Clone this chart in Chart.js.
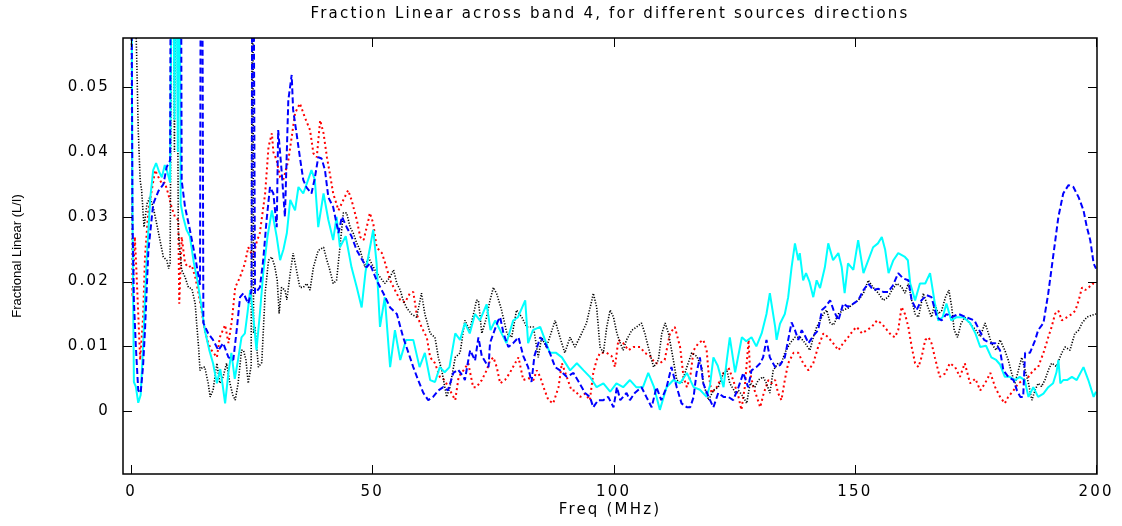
<!DOCTYPE html>
<html>
<head>
<meta charset="utf-8">
<title>Fraction Linear across band 4</title>
<script src="https://cdn.jsdelivr.net/npm/chart.js@4.4.1/dist/chart.umd.min.js"></script>
<style>
  html, body { margin: 0; padding: 0; background: #fff; }
  #wrap { width: 1122px; height: 526px; }
</style>
</head>
<body>
<div id="wrap"><canvas id="fracChart" width="1122" height="526"></canvas></div>
<script>
// [freq (MHz), fractional linear L/I]
const cyanPoints = [
  [0,0.09],[0.3,0.03],[0.6,0.0045],[1.0,0.0038],[1.5,0.0013],[2.0,0.0025],[2.5,0.010],[3.2,0.0228],
  [4.0,0.033],[4.6,0.0372],[5.2,0.0383],[5.8,0.037],[6.4,0.0361],[7.0,0.038],[7.5,0.037],[8.1,0.0353],
  [8.6,0.09],[9.0,0.045],[9.3,0.09],[9.7,0.04],[10.0,0.09],[10.3,0.032],[10.8,0.030],[11.5,0.028],
  [12.2,0.027],[13.0,0.023],[13.8,0.020],[14.3,0.0176],[15.3,0.0125],[16.2,0.0095],[17.0,0.0074],
  [17.8,0.0043],[18.5,0.0065],[19.0,0.004],[19.5,0.0012],[20.2,0.006],[20.8,0.009],[21.5,0.005],
  [22.2,0.008],[22.9,0.0114],[23.6,0.012],[24.2,0.0155],[24.7,0.0187],[25.3,0.015],[26.0,0.0094],
  [26.7,0.015],[27.4,0.0213],[28.3,0.027],[29.2,0.031],[30.2,0.0269],[30.9,0.0233],[31.6,0.025],
  [32.3,0.0275],[33.0,0.0326],[34.0,0.031],[34.7,0.0346],[35.7,0.0336],[36.7,0.0357],[37.4,0.0372],
  [38.1,0.0357],[38.8,0.0284],[39.9,0.0336],[40.9,0.0295],[41.9,0.0264],[42.6,0.030],[43.3,0.0253],
  [44.5,0.027],[45.7,0.0222],[46.8,0.0191],[47.8,0.016],[48.6,0.0215],[50.2,0.028],[50.9,0.0228],
  [51.6,0.013],[52.6,0.0176],[53.7,0.0068],[54.7,0.0125],[55.8,0.0079],[57.0,0.011],[58.5,0.011],
  [59.8,0.0068],[60.9,0.009],[62.0,0.0048],[63.0,0.0045],[64.0,0.0068],[65.0,0.006],[66.0,0.0068],
  [67.2,0.012],[68.2,0.011],[69.2,0.0136],[70.2,0.012],[71.3,0.015],[72.3,0.014],[73.7,0.0165],
  [74.5,0.0125],[75.5,0.014],[76.8,0.012],[77.8,0.0105],[79.2,0.014],[80.2,0.0145],[81.7,0.0171],
  [82.3,0.0105],[83.3,0.0125],[84.8,0.013],[85.8,0.011],[86.8,0.009],[88.1,0.009],[89.3,0.0083],
  [91.0,0.0063],[92.4,0.0074],[93.8,0.0063],[95.1,0.0053],[96.5,0.0037],[97.9,0.0043],[99.3,0.003],
  [100.6,0.0043],[102.0,0.0037],[103.4,0.0048],[104.7,0.0037],[106.1,0.0037],[107.2,0.0059],
  [108.4,0.0037],[109.6,0.0002],[111.0,0.0037],[112.4,0.0048],[113.8,0.0043],[115.2,0.0059],
  [116.6,0.0037],[117.9,0.0033],[119.3,0.0022],[120.0,0.004],[120.7,0.0083],[121.6,0.007],
  [122.8,0.0037],[123.5,0.008],[124.1,0.0114],[125.2,0.006],[126.6,0.0114],[127.5,0.0108],
  [128.6,0.0114],[129.6,0.010],[130.7,0.012],[131.7,0.015],[132.4,0.0182],[133.5,0.013],[133.8,0.011],
  [134.5,0.0135],[135.5,0.015],[136.2,0.0176],[136.9,0.0222],[137.6,0.0259],[138.3,0.0233],
  [138.6,0.0244],[139.3,0.0202],[139.9,0.0213],[140.6,0.020],[141.4,0.0176],[142.1,0.0202],
  [142.8,0.019],[143.8,0.0222],[144.5,0.0259],[145.5,0.0233],[146.6,0.0244],[147.3,0.0222],
  [147.9,0.0182],[148.6,0.0228],[149.7,0.0218],[150.7,0.0264],[151.8,0.0213],[152.8,0.0233],
  [153.8,0.0253],[154.8,0.0259],[155.6,0.0269],[156.3,0.0249],[157.0,0.0213],[158.0,0.0233],
  [159.0,0.0244],[160.4,0.0238],[161.0,0.0233],[161.5,0.0197],[162.5,0.0171],[163.5,0.0197],
  [164.6,0.0197],[165.6,0.0213],[166.6,0.0166],[167.3,0.014],[168.2,0.0145],[169.0,0.0166],
  [170.0,0.014],[171.1,0.0145],[172.5,0.0145],[173.9,0.0136],[175.0,0.012],[176.0,0.0099],
  [177.2,0.0101],[178.3,0.0083],[179.3,0.0079],[180.1,0.0072],[181.1,0.0053],[182.1,0.0053],
  [183.2,0.0048],[184.2,0.0053],[185.2,0.0048],[186.0,0.0022],[187.0,0.0037],[188.0,0.0022],
  [189.1,0.0027],[190.1,0.0037],[191.1,0.0043],[191.8,0.006],[192.2,0.0079],[192.6,0.0043],
  [193.2,0.0048],[194.0,0.0048],[195.0,0.0053],[196.0,0.0048],[197.4,0.0068],[198.4,0.0048],
  [199.5,0.0022],[200,0.003]
];

const bluePoints = [
  [0,0.09],[0.3,0.03],[0.6,0.017],[1.0,0.010],[1.5,0.0032],[2.0,0.0028],[2.5,0.007],[2.9,0.0125],
  [3.6,0.0248],[4.6,0.032],[5.7,0.034],[6.7,0.035],[7.4,0.0377],[8.1,0.0387],[8.3,0.09],[9.2,0.06],
  [9.8,0.09],[10.3,0.09],[10.5,0.0356],[11.2,0.0315],[12.2,0.028],[13.3,0.0238],[14.3,0.0195],
  [14.5,0.09],[14.7,0.09],[15.0,0.0136],[16.0,0.012],[17.0,0.011],[18.1,0.0094],[19.1,0.0105],
  [20.2,0.0083],[21.2,0.0079],[21.9,0.0125],[22.6,0.0176],[23.3,0.0182],[24.3,0.0166],[25.0,0.0187],
  [25.15,0.09],[25.3,0.09],[25.7,0.0182],[26.7,0.0191],[27.4,0.0233],[28.1,0.0295],[28.8,0.0346],
  [29.5,0.0336],[30.2,0.0284],[30.5,0.0434],[31.2,0.0372],[31.9,0.030],[32.6,0.048],[33.3,0.0519],
  [33.6,0.0465],[34.3,0.0429],[35.0,0.0392],[35.7,0.0357],[36.4,0.0345],[37.4,0.0336],[38.1,0.036],
  [38.8,0.0392],[39.5,0.039],[40.2,0.0372],[40.9,0.033],[41.9,0.0315],[43.0,0.0275],[43.7,0.030],
  [44.7,0.0284],[45.7,0.027],[46.8,0.0248],[47.8,0.0235],[48.8,0.0222],[49.5,0.0228],[50.9,0.0202],
  [52.3,0.0182],[53.7,0.016],[55.1,0.015],[56.4,0.0114],[57.5,0.009],[58.5,0.0068],[59.5,0.0048],
  [60.6,0.0028],[61.6,0.0017],[62.6,0.0022],[63.7,0.0032],[64.7,0.0037],[65.7,0.0032],[66.8,0.0059],
  [67.8,0.0064],[68.9,0.0053],[69.2,0.0048],[70.0,0.0083],[70.3,0.0094],[71.3,0.0078],[72.0,0.0114],
  [72.7,0.0085],[74.1,0.0068],[74.4,0.0105],[75.1,0.012],[76.1,0.014],[76.5,0.0145],[77.2,0.012],
  [78.2,0.0099],[79.2,0.0105],[80.3,0.0114],[81.3,0.0085],[82.3,0.0068],[83.0,0.0045],[83.6,0.0085],
  [84.8,0.0114],[85.8,0.0105],[86.8,0.009],[87.9,0.0068],[88.9,0.0063],[90.3,0.0053],[91.7,0.0059],
  [92.8,0.0045],[94.1,0.0028],[95.1,0.0022],[95.8,0.0006],[96.8,0.0017],[97.9,0.0017],[98.9,0.0022],
  [100.0,0.0006],[100.7,0.0037],[101.4,0.0017],[102.7,0.0028],[103.4,0.0017],[104.4,0.0028],
  [105.8,0.0037],[106.8,0.0022],[107.9,0.0006],[108.9,0.0037],[109.9,0.0017],[111.0,0.0037],
  [112.0,0.0068],[113.1,0.0037],[114.1,0.0012],[115.2,0.0006],[115.9,0.0006],[116.6,0.0022],
  [117.2,0.0059],[117.9,0.0083],[118.6,0.0043],[119.7,0.0022],[120.7,0.0006],[121.7,0.0028],
  [122.8,0.0022],[123.8,0.0022],[124.8,0.0017],[125.9,0.0037],[126.9,0.0059],[127.9,0.0037],
  [128.6,0.0063],[129.6,0.0068],[130.4,0.0074],[131.0,0.0083],[131.7,0.011],[132.4,0.0083],
  [133.5,0.0068],[134.5,0.0071],[135.5,0.0083],[136.2,0.011],[136.9,0.0137],[137.6,0.0125],
  [138.3,0.011],[139.0,0.0125],[139.7,0.0116],[140.4,0.0105],[141.4,0.0116],[142.4,0.0125],
  [143.2,0.0156],[143.9,0.0161],[144.9,0.0171],[145.6,0.0156],[146.6,0.014],[147.6,0.0166],
  [148.6,0.0161],[149.7,0.0166],[150.7,0.0171],[151.8,0.0187],[152.8,0.0197],[153.8,0.0187],
  [154.9,0.0189],[155.9,0.0184],[156.9,0.0184],[157.9,0.0194],[159.0,0.0213],[160.0,0.0205],
  [161.1,0.0202],[161.8,0.0171],[162.8,0.0156],[163.8,0.0171],[164.9,0.0179],[165.9,0.0176],
  [167.0,0.0145],[168.0,0.014],[169.0,0.015],[170.1,0.0145],[171.5,0.015],[173.1,0.0145],
  [174.8,0.014],[175.8,0.0125],[176.8,0.011],[178.1,0.0105],[179.1,0.0105],[180.1,0.0094],
  [180.8,0.0063],[181.8,0.0053],[182.9,0.0048],[183.6,0.0032],[184.3,0.0022],[184.9,0.0022],
  [185.3,0.009],[186.3,0.009],[187.4,0.011],[188.0,0.0125],[189.1,0.0136],[190.1,0.0182],
  [191.1,0.0238],[192.2,0.030],[193.2,0.0336],[194.3,0.0349],[195.3,0.0346],[196.4,0.033],
  [197.4,0.031],[198.1,0.0284],[198.8,0.0264],[199.5,0.0228],[200,0.022]
];

const redPoints = [
  [0,0.09],[0.3,0.0176],[0.8,0.0269],[1.1,0.022],[1.5,0.015],[1.9,0.0079],[2.5,0.0145],[2.9,0.0238],
  [3.6,0.031],[4.3,0.0341],[5.0,0.0372],[5.7,0.0361],[6.4,0.0351],[7.0,0.0353],[7.7,0.0336],
  [8.4,0.0315],[9.1,0.030],[9.8,0.0295],[10.0,0.0166],[10.5,0.0269],[11.2,0.0228],[11.9,0.0222],
  [12.6,0.0225],[13.3,0.0207],[14.0,0.0182],[14.6,0.0156],[15.3,0.0125],[16.0,0.0105],[16.7,0.0094],
  [17.8,0.0083],[18.4,0.0114],[19.5,0.0133],[20.2,0.0105],[20.9,0.014],[21.6,0.0191],[22.6,0.0207],
  [23.6,0.0228],[24.3,0.0253],[25.3,0.0238],[26.0,0.026],[26.7,0.0275],[27.8,0.0336],[28.5,0.0408],
  [29.2,0.0429],[29.5,0.040],[30.2,0.0387],[30.9,0.0361],[31.6,0.0358],[32.6,0.0387],[33.3,0.0423],
  [34.0,0.046],[35.0,0.0475],[36.0,0.0454],[37.1,0.0434],[37.8,0.0398],[38.5,0.0392],[39.2,0.0449],
  [39.9,0.0429],[40.6,0.0392],[41.2,0.0367],[41.9,0.0336],[43.0,0.031],[44.0,0.0326],[45.0,0.0341],
  [45.7,0.0326],[46.8,0.0295],[47.5,0.0269],[48.2,0.0264],[49.2,0.0295],[49.5,0.0306],[50.2,0.029],
  [50.9,0.0253],[52.0,0.0244],[52.7,0.0228],[53.7,0.0202],[54.7,0.0187],[55.8,0.0171],[56.8,0.0168],
  [57.8,0.0182],[58.5,0.0184],[59.2,0.015],[60.2,0.013],[61.3,0.0114],[62.0,0.0083],[63.0,0.0074],
  [64.0,0.0053],[65.0,0.0048],[66.1,0.0032],[67.2,0.0017],[67.9,0.0053],[68.9,0.0063],[69.9,0.0074],
  [70.9,0.0037],[71.6,0.0037],[72.7,0.0048],[73.7,0.0063],[74.4,0.0078],[75.1,0.0083],[75.8,0.0068],
  [76.5,0.0043],[77.5,0.0048],[78.5,0.0059],[79.6,0.0074],[80.3,0.0083],[81.3,0.0048],[82.3,0.0051],
  [83.4,0.0048],[84.1,0.0063],[84.8,0.0053],[85.5,0.0037],[86.5,0.0017],[87.5,0.0012],[88.6,0.0037],
  [89.3,0.0074],[90.3,0.0053],[91.3,0.0032],[92.0,0.0032],[93.1,0.0022],[94.1,0.0027],[95.1,0.0017],
  [95.8,0.0059],[96.5,0.0079],[97.2,0.009],[98.6,0.009],[99.6,0.0085],[100.3,0.0068],[101.0,0.011],
  [102.0,0.0105],[103.1,0.0094],[104.1,0.0099],[105.5,0.0099],[106.5,0.009],[107.6,0.0085],
  [108.6,0.0074],[109.6,0.0074],[110.6,0.0079],[111.7,0.012],[112.7,0.013],[113.8,0.0099],
  [114.5,0.0053],[115.2,0.0037],[115.9,0.0053],[116.6,0.0094],[117.6,0.0105],[118.6,0.011],
  [119.3,0.0094],[119.7,0.0059],[120.3,0.0028],[121.4,0.0037],[122.8,0.0059],[123.8,0.0068],
  [124.8,0.0048],[125.9,0.0022],[126.5,0.0002],[127.2,0.0037],[128.0,0.011],[128.3,0.0059],
  [129.0,0.0037],[129.7,0.0022],[130.4,0.0006],[131.1,0.0027],[132.1,0.0048],[132.8,0.0043],
  [133.5,0.0048],[134.1,0.0028],[134.8,0.0017],[135.5,0.0048],[136.2,0.0074],[137.3,0.009],
  [138.3,0.009],[139.3,0.0074],[140.4,0.0063],[141.4,0.0074],[142.4,0.0099],[143.5,0.012],
  [144.5,0.0114],[145.5,0.0105],[146.6,0.0094],[147.6,0.0105],[148.6,0.0114],[149.7,0.0125],
  [150.4,0.013],[151.5,0.012],[152.5,0.0125],[153.5,0.013],[154.6,0.014],[155.6,0.0135],
  [156.7,0.0125],[157.6,0.0117],[158.3,0.0114],[159.0,0.0125],[159.7,0.0161],[160.4,0.015],
  [161.1,0.013],[161.8,0.0099],[162.5,0.0074],[163.2,0.0068],[163.9,0.0085],[164.6,0.011],
  [165.3,0.0114],[165.9,0.0105],[166.6,0.0083],[167.6,0.0053],[168.7,0.0058],[169.7,0.0074],
  [170.8,0.0068],[171.8,0.0053],[172.8,0.0074],[173.9,0.0043],[175.0,0.005],[176.0,0.0032],
  [177.0,0.0043],[178.1,0.0059],[179.1,0.0037],[180.1,0.0022],[181.1,0.0012],[181.8,0.0022],
  [182.9,0.0032],[183.9,0.0043],[185.0,0.0048],[186.0,0.0053],[187.0,0.0063],[188.0,0.0068],
  [189.1,0.009],[190.1,0.0114],[190.8,0.013],[191.5,0.015],[192.2,0.0155],[192.9,0.014],
  [194.0,0.0145],[195.0,0.015],[195.7,0.0155],[196.4,0.0171],[197.1,0.0191],[197.8,0.0187],
  [198.5,0.0191],[199.3,0.0197],[200,0.0195]
];

const blackPoints = [
  [0.5,0.09],[1.0,0.06],[1.2,0.054],[1.5,0.0434],[1.9,0.0356],[2.2,0.0341],[2.7,0.0284],[3.3,0.032],
  [3.9,0.033],[4.6,0.0315],[5.3,0.029],[6.0,0.0264],[6.7,0.0238],[7.4,0.0233],[7.8,0.022],[8.1,0.0228],
  [8.6,0.09],[9.0,0.04],[9.4,0.09],[9.8,0.028],[10.1,0.025],[10.5,0.0218],[11.2,0.0207],[11.9,0.0191],
  [12.6,0.0189],[13.3,0.0166],[13.6,0.0136],[14.0,0.0099],[14.3,0.0063],[14.8,0.0068],[15.3,0.0068],
  [16.0,0.0043],[16.4,0.0022],[17.0,0.0032],[17.8,0.0074],[18.4,0.0043],[19.1,0.0053],[19.8,0.0074],
  [20.5,0.0043],[21.1,0.0025],[21.6,0.0017],[22.2,0.0043],[22.9,0.0094],[23.3,0.0094],[23.8,0.008],
  [24.3,0.0043],[24.9,0.007],[25.2,0.09],[25.4,0.012],[25.7,0.013],[26.4,0.0068],[27.1,0.0075],
  [27.8,0.0182],[28.5,0.0233],[29.2,0.0238],[29.8,0.0223],[30.3,0.0202],[30.7,0.0151],[31.2,0.0191],
  [31.9,0.0187],[32.3,0.0172],[33.0,0.0213],[33.6,0.0244],[34.3,0.0218],[35.0,0.0191],[35.7,0.0191],
  [36.4,0.0197],[37.1,0.0187],[37.8,0.0222],[38.8,0.0248],[39.9,0.0253],[40.6,0.0233],[41.2,0.0218],
  [41.9,0.0197],[42.6,0.0202],[43.3,0.0253],[44.0,0.0306],[44.7,0.0306],[45.4,0.0284],[46.1,0.0274],
  [46.8,0.0259],[47.5,0.0248],[48.5,0.0222],[49.2,0.0238],[49.5,0.0233],[50.9,0.0213],[51.6,0.0207],
  [52.6,0.0197],[53.7,0.0207],[54.4,0.0218],[55.1,0.0197],[55.8,0.0187],[56.4,0.0171],[57.1,0.016],
  [58.1,0.015],[59.2,0.0145],[60.2,0.0182],[60.9,0.015],[62.0,0.012],[63.0,0.0114],[63.7,0.0083],
  [64.4,0.0063],[65.4,0.0022],[66.1,0.0037],[67.2,0.0083],[68.2,0.009],[69.2,0.014],[70.2,0.0125],
  [71.3,0.016],[71.6,0.0171],[72.0,0.0171],[72.7,0.012],[73.7,0.0145],[74.4,0.0171],[75.1,0.0191],
  [75.8,0.0181],[76.8,0.0156],[77.9,0.012],[78.9,0.0114],[79.9,0.0156],[81.0,0.0145],[82.0,0.013],
  [83.4,0.013],[84.4,0.0083],[85.1,0.0114],[86.1,0.0099],[87.9,0.014],[88.9,0.0114],[89.9,0.009],
  [91.0,0.0114],[92.0,0.0099],[93.4,0.012],[94.4,0.0136],[95.5,0.0171],[95.8,0.0182],[96.5,0.0161],
  [97.2,0.0099],[97.9,0.009],[98.6,0.013],[99.3,0.0156],[100.0,0.0145],[100.7,0.012],[101.4,0.0105],
  [102.0,0.0094],[102.7,0.011],[103.8,0.0125],[104.8,0.013],[105.8,0.0136],[106.5,0.012],[107.2,0.0099],
  [108.3,0.0068],[109.3,0.0079],[110.0,0.012],[110.7,0.0136],[111.4,0.012],[112.4,0.0079],
  [113.1,0.0048],[114.1,0.0043],[115.2,0.0068],[116.2,0.009],[117.2,0.0085],[118.3,0.0068],
  [118.6,0.0043],[119.7,0.0017],[120.7,0.0032],[121.7,0.0037],[122.8,0.0059],[123.5,0.0063],
  [124.1,0.0043],[125.3,0.0028],[125.9,0.0032],[126.9,0.0022],[127.6,0.0012],[128.3,0.0043],
  [129.3,0.0037],[130.0,0.0048],[131.0,0.0053],[131.7,0.0043],[132.4,0.0028],[133.1,0.0063],
  [134.1,0.0074],[134.8,0.0074],[135.5,0.009],[136.6,0.0105],[137.6,0.0114],[138.7,0.0114],
  [139.7,0.0105],[140.7,0.0094],[141.4,0.0114],[142.1,0.013],[142.8,0.014],[143.5,0.015],
  [144.2,0.0156],[144.9,0.0136],[145.6,0.0133],[146.6,0.015],[147.6,0.0156],[148.6,0.0159],
  [149.7,0.0166],[150.7,0.0171],[151.8,0.0182],[152.8,0.0202],[153.8,0.0191],[154.9,0.0182],
  [155.9,0.0171],[156.9,0.0176],[157.7,0.0187],[158.7,0.0197],[159.7,0.0192],[160.4,0.0182],
  [161.1,0.0197],[161.8,0.0171],[162.5,0.015],[163.2,0.0145],[164.2,0.0182],[165.2,0.016],
  [165.9,0.0145],[166.6,0.0166],[167.3,0.015],[168.0,0.0155],[168.8,0.0176],[169.5,0.0187],
  [170.1,0.016],[170.6,0.0125],[171.3,0.0114],[172.0,0.0135],[172.8,0.0145],[173.9,0.0135],
  [175.1,0.0125],[176.0,0.0115],[177.0,0.0136],[177.7,0.012],[178.3,0.0105],[179.3,0.0094],
  [180.1,0.011],[181.1,0.0094],[181.8,0.0079],[182.5,0.0059],[183.2,0.0043],[183.9,0.0063],
  [184.6,0.0083],[185.3,0.0063],[186.0,0.0043],[186.7,0.0017],[187.4,0.0033],[188.0,0.0043],
  [188.7,0.0038],[189.4,0.0048],[190.1,0.0063],[190.8,0.0074],[191.8,0.0069],[192.9,0.009],
  [193.6,0.0099],[194.6,0.0094],[195.6,0.012],[196.4,0.0125],[197.1,0.0136],[198.1,0.0145],
  [199.1,0.0148],[200,0.015]
];

const freqTicks = [0, 50, 100, 150, 200];
const fracTicks = [0, 0.01, 0.02, 0.03, 0.04, 0.05];

const wideFont = "'DejaVu Sans', sans-serif";
const plainFont = "'Liberation Sans', Arial, sans-serif";

function toXY(points) {
  return points.map(p => ({ x: p[0], y: p[1] }));
}

// the original text is stretched sideways, letter spacing gets close to that
const spacingPlugin = {
  id: "spacing",
  beforeDraw(chart) {
    chart.ctx.letterSpacing = "2.2px";
  },
  afterDatasetsDraw(chart) {
    chart.ctx.letterSpacing = "0px";
  }
};

// box round the plot with inward ticks on all four sides
const framePlugin = {
  id: "frame",
  afterDraw(chart) {
    const { ctx, chartArea: a, scales } = chart;
    ctx.save();
    ctx.strokeStyle = "#000";
    ctx.lineWidth = 1.5;
    ctx.strokeRect(a.left, a.top, a.right - a.left, a.bottom - a.top);
    ctx.lineWidth = 1;
    ctx.beginPath();
    freqTicks.forEach(v => {
      const px = Math.round(scales.x.getPixelForValue(v)) + 0.5;
      ctx.moveTo(px, a.bottom);
      ctx.lineTo(px, a.bottom - 9);
      ctx.moveTo(px, a.top);
      ctx.lineTo(px, a.top + 9);
    });
    fracTicks.forEach(v => {
      const py = Math.round(scales.y.getPixelForValue(v)) + 0.5;
      ctx.moveTo(a.left, py);
      ctx.lineTo(a.left + 9, py);
      ctx.moveTo(a.right, py);
      ctx.lineTo(a.right - 9, py);
    });
    ctx.stroke();
    ctx.restore();
  }
};

function lineSet(label, points, color, width, dash, order) {
  return {
    label,
    data: toXY(points),
    borderColor: color,
    borderWidth: width,
    borderDash: dash,
    borderJoinStyle: "bevel",
    pointRadius: 0,
    tension: 0,
    fill: false,
    order
  };
}

new Chart(document.getElementById("fracChart"), {
  type: "line",
  data: {
    datasets: [
      lineSet("direction 4", bluePoints, "#0000ff", 2, [6, 3], 1),
      lineSet("direction 3", cyanPoints, "#00ffff", 2, [], 2),
      lineSet("direction 2", blackPoints, "#000000", 1.6, [1.2, 1.6], 3),
      lineSet("direction 1", redPoints, "#ff0000", 2, [2, 3], 4)
    ]
  },
  options: {
    responsive: false,
    animation: false,
    devicePixelRatio: 1,
    layout: { padding: { top: 0, right: 25, bottom: 0, left: 0 } },
    plugins: {
      legend: { display: false },
      tooltip: { enabled: false },
      title: {
        display: true,
        fullSize: false,
        text: "Fraction Linear across band 4, for different sources directions",
        color: "#000",
        font: { family: wideFont, size: 15, weight: "normal" },
        padding: { top: 5, bottom: 15 }
      }
    },
    scales: {
      x: {
        type: "linear",
        min: -1.66,
        max: 200.2,
        afterBuildTicks: s => { s.ticks = freqTicks.map(v => ({ value: v })); },
        afterFit: s => { s.height = 52; },
        grid: { display: false, drawTicks: false },
        border: { display: false },
        ticks: {
          color: "#000",
          padding: 9,
          maxRotation: 0,
          autoSkip: false,
          font: { family: wideFont, size: 15 },
          callback: v => String(v)
        },
        title: {
          display: true,
          text: "Freq (MHz)",
          color: "#000",
          font: { family: wideFont, size: 15 },
          padding: { top: 0, bottom: 7 }
        }
      },
      y: {
        type: "linear",
        min: -0.0097,
        max: 0.0576,
        afterBuildTicks: s => { s.ticks = fracTicks.map(v => ({ value: v })); },
        afterFit: s => { s.width = 123; },
        grid: { display: false, drawTicks: false, z: 1 },
        border: { display: false },
        ticks: {
          color: "#000",
          padding: 13,
          font: { family: wideFont, size: 15 },
          callback: v => v === 0 ? "0" : v.toFixed(2)
        },
        title: {
          display: true,
          text: "Fractional Linear (L/I)",
          color: "#000",
          font: { family: plainFont, size: 13 },
          padding: { top: 10, bottom: 0 }
        }
      }
    }
  },
  plugins: [spacingPlugin, framePlugin]
});
</script>
</body>
</html>
